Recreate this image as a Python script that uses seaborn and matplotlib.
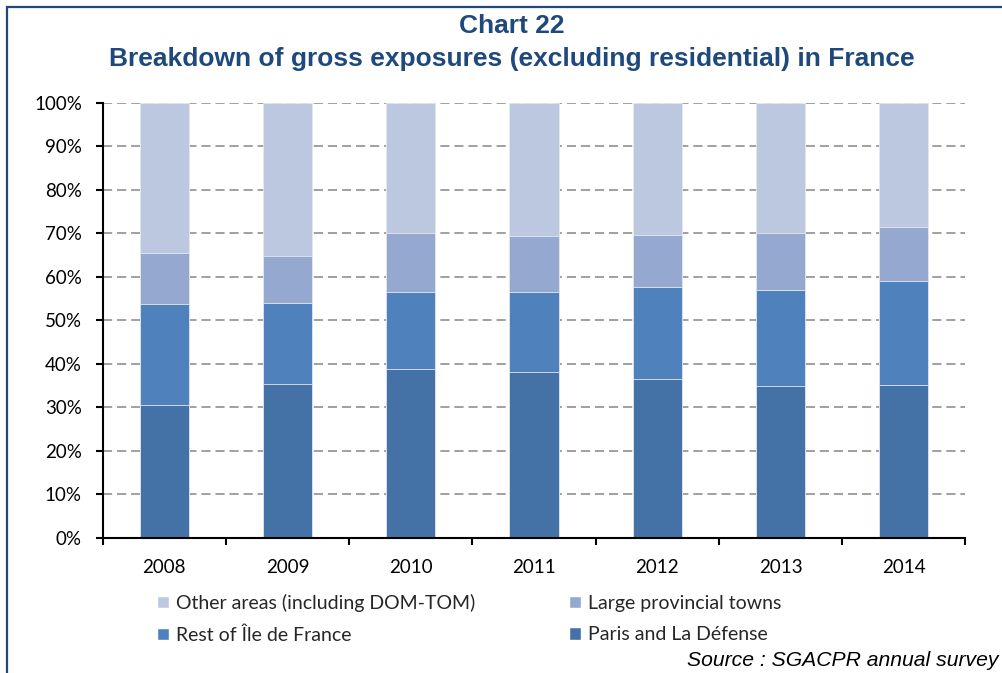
import matplotlib
matplotlib.use("Agg")
import matplotlib.pyplot as plt
from matplotlib.patches import Patch, Rectangle
import numpy as np
import pandas as pd
import seaborn as sns

# Shares of gross exposures (excluding residential), in % of total
years = ["2008", "2009", "2010", "2011", "2012", "2013", "2014"]
paris_la_defense = [30.5, 35.3, 38.9, 38.0, 36.4, 34.9, 35.0]
rest_ile_de_france = [23.3, 18.7, 17.7, 18.6, 21.3, 22.0, 23.9]
large_provincial = [11.7, 10.8, 13.4, 12.8, 12.0, 13.1, 12.6]
other_areas = [34.5, 35.2, 30.0, 30.6, 30.3, 30.0, 28.5]

series_names = ["Paris and La Défense", "Rest of Île de France",
                "Large provincial towns", "Other areas (including DOM-TOM)"]
series_colors = ["#4472A7", "#4F81BD", "#95A9D0", "#BCC8E0"]

df = pd.DataFrame({
    "year": years,
    series_names[0]: paris_la_defense,
    series_names[1]: rest_ile_de_france,
    series_names[2]: large_provincial,
    series_names[3]: other_areas,
})

sns.set_theme(style="white")
plt.rcParams["font.family"] = ["Lato", "DejaVu Sans"]

fig = plt.figure(figsize=(10.03, 6.73), dpi=100)
ax = fig.add_axes([0.1024, 0.2010, 0.8600, 0.6464])

# Stacked columns: draw cumulative totals from the top segment down
cum = df[series_names].cumsum(axis=1)
for name, color in reversed(list(zip(series_names, series_colors))):
    sns.barplot(x=df["year"], y=cum[name], color=color, width=0.4,
                saturation=1, edgecolor="#E4E9F3", linewidth=0.6,
                ax=ax, zorder=2)

ax.set_xlim(-0.5, 6.5)
ax.set_ylim(0, 100)
ax.set_yticks(np.arange(0, 101, 10))
ax.set_yticklabels([f"{v}%" for v in range(0, 101, 10)])
ax.set_xlabel("")
ax.set_ylabel("")

# Dashed horizontal gridlines behind the columns
for v in range(10, 101, 10):
    ax.axhline(v, color="#868686", lw=1.1, dashes=(6, 3.2), zorder=1)

for side in ["top", "right"]:
    ax.spines[side].set_visible(False)
for side in ["left", "bottom"]:
    ax.spines[side].set_color("black")
    ax.spines[side].set_linewidth(1.5)
    ax.spines[side].set_zorder(3)

# Tick marks between categories, labels centred under the columns
ax.set_xticks(np.arange(-0.5, 7, 1), minor=True)
ax.tick_params(axis="x", which="major", length=0, pad=15, labelsize=13.5,
               labelcolor="black")
ax.tick_params(axis="x", which="minor", length=5, width=1.5, color="black",
               direction="out", bottom=True)
ax.tick_params(axis="y", which="major", length=5, width=1.5, color="black",
               direction="out", left=True, pad=10, labelsize=13.5,
               labelcolor="black")

title_color = "#1F497D"
fig.text(0.510, 0.962, "Chart 22", ha="center", va="center", fontsize=19,
         fontweight="bold", color=title_color, family="Liberation Sans")
fig.text(0.510, 0.912,
         "Breakdown of gross exposures (excluding residential) in France",
         ha="center", va="center", fontsize=19, fontweight="bold",
         color=title_color, family="Liberation Sans")

handles = [Patch(facecolor=series_colors[3], label=series_names[3]),
           Patch(facecolor=series_colors[1], label=series_names[1]),
           Patch(facecolor=series_colors[2], label=series_names[2]),
           Patch(facecolor=series_colors[0], label=series_names[0])]
fig.legend(handles=handles, ncol=2, loc="upper left",
           bbox_to_anchor=(0.157, 0.118), bbox_transform=fig.transFigure,
           frameon=False, fontsize=14, handlelength=0.6, handleheight=0.6,
           handletextpad=0.35, columnspacing=4.85, labelspacing=0.75,
           borderaxespad=0, borderpad=0)

fig.text(0.996, 0.019, "Source : SGACPR annual survey", ha="right",
         va="center", fontsize=15.2, fontstyle="italic", color="black",
         family="Liberation Sans")

# Dark blue frame around the whole chart
fig.patches.append(Rectangle((0.0065, -0.05), 1.2, 1.039, transform=fig.transFigure,
                             fill=False, edgecolor="#1F497D", linewidth=1.6))

fig.savefig("out.png", dpi=100)
